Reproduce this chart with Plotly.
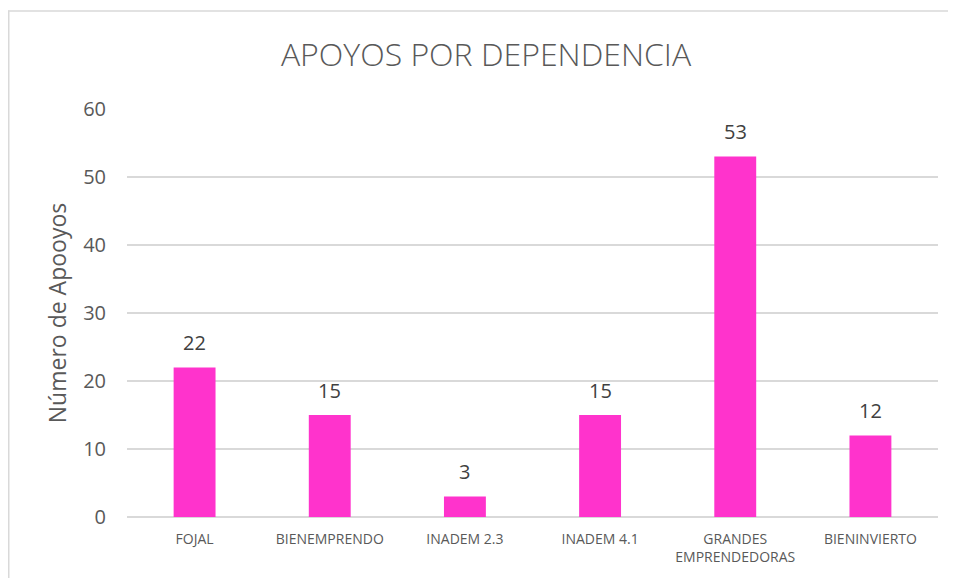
import plotly.graph_objects as go

categories = ["FOJAL", "BIENEMPRENDO", "INADEM 2.3", "INADEM 4.1", "GRANDES<br>EMPRENDEDORAS", "BIENINVIERTO"]
values = [22, 15, 3, 15, 53, 12]
y_ticks = [0, 10, 20, 30, 40, 50, 60]

# page is offset by 8px body margin
W, H = 948, 570
L, R, T, B = 119, 18, 101, 59
pw, ph = W - L - R, H - T - B

def px_x(px):
    return (px - L) / pw

def px_y(py):
    return (H - B - py) / ph

fig = go.Figure()
fig.add_trace(go.Bar(
    x=categories, y=values,
    marker=dict(color="#FF33CC", line=dict(width=0)),
))

for c, v in zip(categories, values):
    fig.add_annotation(x=c, y=v, text=str(v), showarrow=False, yanchor="middle", yshift=25,
                       font=dict(size=20, color="#404040", family="Open Sans"))

fig.update_layout(
    width=W, height=H,
    margin=dict(l=L, r=R, t=T, b=B),
    paper_bgcolor="white", plot_bgcolor="white",
    bargap=0.69,
    showlegend=False,
    title=dict(text="APOYOS POR DEPENDENCIA", x=(486 - 8) / W, xanchor="center",
               y=1 - 47 / H, yanchor="middle", yref="container",
               font=dict(size=32, color="#595959", family="Open Sans", weight=300)),
    font=dict(family="Open Sans", color="#595959"),
    xaxis=dict(showgrid=False, showline=False, ticks="", ticklabelstandoff=12,
               tickfont=dict(size=14, color="#595959")),
    yaxis=dict(range=[0, 60], tickvals=y_ticks, showgrid=True, gridcolor="#D9D9D9", gridwidth=1.5,
               zeroline=True, zerolinecolor="#D9D9D9", zerolinewidth=1.5,
               tickfont=dict(size=20, color="#595959"), ticks="", ticklabelstandoff=20,
               title=dict(text="Número de Apooyos", font=dict(size=23, color="#595959"), standoff=10)),
    shapes=[
        dict(type="line", xref="paper", yref="paper", x0=px_x(0), x1=px_x(W + 5), y0=px_y(2.5), y1=px_y(2.5),
             line=dict(color="#D9D9D9", width=1.5)),
        dict(type="line", xref="paper", yref="paper", x0=px_x(0.75), x1=px_x(0.75), y0=px_y(2), y1=px_y(H + 5),
             line=dict(color="#D9D9D9", width=1.5)),
    ],
)

fig.write_html("out.html")
